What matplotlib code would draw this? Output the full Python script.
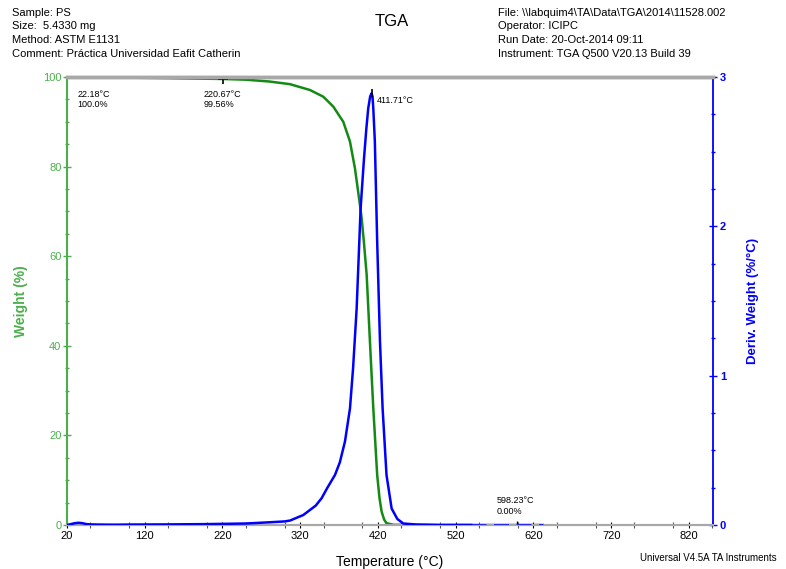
import matplotlib
matplotlib.use("Agg")
import matplotlib.pyplot as plt
from matplotlib.ticker import MultipleLocator

plt.rcParams['font.family'] = ['Liberation Sans', 'DejaVu Sans']

# Weight curve (green)
w_temp = [22.18, 50, 100, 150, 220.67, 250, 280, 306.8, 332.5, 349.7, 362.5, 375.4, 384,
          390.4, 396.9, 399, 402, 405.5, 409.7, 414, 419, 422, 424.7, 428, 431, 440, 500, 598.23, 632]
w_val = [100.0, 99.95, 99.85, 99.75, 99.56, 99.4, 99.0, 98.4, 97.1, 95.6, 93.4, 90.0, 85.6,
         79.6, 71.4, 68.5, 63.0, 55.8, 40.9, 26.1, 11.2, 6.0, 3.0, 1.2, 0.4, 0.05, 0.0, 0.0, 0.0]

# Derivative curve (blue)
d_temp = [20, 25, 30, 35, 40, 45, 50, 60, 80, 100, 150, 200, 250, 280, 300, 307, 324, 340,
          347.6, 355, 364.7, 371, 377.6, 384, 388, 392.6, 397.7, 402, 405, 407.5, 410, 411.71,
          413, 414, 416, 419, 422.6, 426, 431, 437.6, 445, 452.6, 470, 500, 540]
d_val = [0.0, 0.006, 0.012, 0.015, 0.012, 0.006, 0.004, 0.003, 0.002, 0.003, 0.004, 0.006, 0.01,
         0.018, 0.024, 0.03, 0.067, 0.13, 0.18, 0.25, 0.335, 0.42, 0.56, 0.78, 1.05, 1.45, 2.12,
         2.45, 2.65, 2.79, 2.87, 2.89, 2.87, 2.79, 2.57, 1.90, 1.23, 0.78, 0.335, 0.11, 0.04,
         0.01, 0.003, 0.0, 0.0]
d_tail_temp = [540, 632]
d_tail_val = [0.0, 0.0]

x_ticks = [20, 120, 220, 320, 420, 520, 620, 720, 820]

GREEN_LINE = '#138a13'
GREEN_AX = '#4caf4c'
BLUE = '#0000ff'
GRAY = '#a8a8a8'

fig = plt.figure(figsize=(7.86, 5.69), dpi=100)
ax = fig.add_axes([67/786, 1-525/569, (713-67)/786, (525-77)/569])
ax2 = ax.twinx()

ax.plot(w_temp, w_val, color=GREEN_LINE, lw=1.8, zorder=3)
ax2.plot(d_temp, d_val, color=BLUE, lw=1.8, zorder=4)
ax2.plot(d_tail_temp, d_tail_val, color=BLUE, lw=1.8, ls=(0, (6, 3)), zorder=4)

# markers
ax.plot([220.67], [99.56], marker='+', color='black', ms=7, mew=1.2, zorder=5)
ax.plot([598.23], [0.0], marker='+', color='black', ms=6, mew=1.0, zorder=5)
ax2.plot([411.71], [2.89], marker='|', color='black', ms=6, mew=1.2, zorder=6)

ax.set_xlim(20, 851)
ax.set_ylim(0, 100)
ax2.set_ylim(0, 3)

ax.set_xticks(x_ticks)
ax.xaxis.set_minor_locator(MultipleLocator(50))
ax.yaxis.set_major_locator(MultipleLocator(20))
ax.yaxis.set_minor_locator(MultipleLocator(5))
ax2.yaxis.set_major_locator(MultipleLocator(1))
ax2.yaxis.set_minor_locator(MultipleLocator(0.25))

for a in (ax, ax2):
    a.spines['top'].set_color(GRAY)
    a.spines['top'].set_linewidth(2.5)
    a.spines['bottom'].set_color(GRAY)
    a.spines['bottom'].set_linewidth(1.5)
ax.spines['left'].set_color(GREEN_AX)
ax.spines['left'].set_linewidth(1.5)
ax2.spines['right'].set_color(BLUE)
ax2.spines['right'].set_linewidth(1.3)
ax2.spines['left'].set_visible(False)
ax.spines['right'].set_visible(False)

ax.tick_params(axis='x', which='both', direction='inout', colors='black', labelsize=8,
               length=5, width=0.8, pad=2)
ax.tick_params(axis='x', which='minor', length=4, color='#555555')
ax.tick_params(axis='y', which='major', direction='inout', color=GREEN_AX, labelcolor=GREEN_AX,
               labelsize=8, length=6, width=1.0, pad=1)
ax.tick_params(axis='y', which='minor', direction='inout', color=GREEN_AX, length=3, width=1.0)
ax2.tick_params(axis='y', which='major', direction='inout', color=BLUE, labelcolor=BLUE,
                labelsize=8, length=6, width=1.0, pad=2)
ax2.tick_params(axis='y', which='minor', direction='inout', color=BLUE, length=3, width=1.0)
for lab in ax2.get_yticklabels():
    lab.set_fontweight('bold')

ax.set_xlabel('Temperature (°C)', fontsize=10, labelpad=10)
ax.set_ylabel('Weight (%)', fontsize=10, color=GREEN_AX, fontweight='bold', labelpad=11)
ax2.set_ylabel('Deriv. Weight (%/°C)', fontsize=9.5, color=BLUE, fontweight='bold', labelpad=15)

# annotations
ax.text(33, 97.2, '22.18°C\n100.0%', fontsize=6.5, va='top', ha='left', linespacing=1.2)
ax.text(196, 97.2, '220.67°C\n99.56%', fontsize=6.5, va='top', ha='left', linespacing=1.2)
ax2.text(418, 2.84, '411.71°C', fontsize=6.5, va='center', ha='left')
ax.text(573, 6.4, '598.23°C\n0.00%', fontsize=6.5, va='top', ha='left', linespacing=1.2)

# header
HF = 8.0
fig.text(12/786, 1-13/569, 'Sample: PS', fontsize=HF, va='center')
fig.text(12/786, 1-26/569, 'Size:  5.4330 mg', fontsize=HF, va='center')
fig.text(12/786, 1-40/569, 'Method: ASTM E1131', fontsize=HF, va='center')
fig.text(12/786, 1-54/569, 'Comment: Práctica Universidad Eafit Catherin', fontsize=HF, va='center')
fig.text(392/786, 1-22/569, 'TGA', fontsize=12, ha='center', va='center')
fig.text(498/786, 1-13/569, 'File: \\\\labquim4\\TA\\Data\\TGA\\2014\\11528.002', fontsize=HF, va='center')
fig.text(498/786, 1-26/569, 'Operator: ICIPC', fontsize=HF, va='center')
fig.text(498/786, 1-40/569, 'Run Date: 20-Oct-2014 09:11', fontsize=HF, va='center')
fig.text(498/786, 1-54/569, 'Instrument: TGA Q500 V20.13 Build 39', fontsize=HF, va='center')
fig.text(640/786, 1-558/569, 'Universal V4.5A TA Instruments', fontsize=7.0, va='center')

fig.savefig('out.png', dpi=100)
